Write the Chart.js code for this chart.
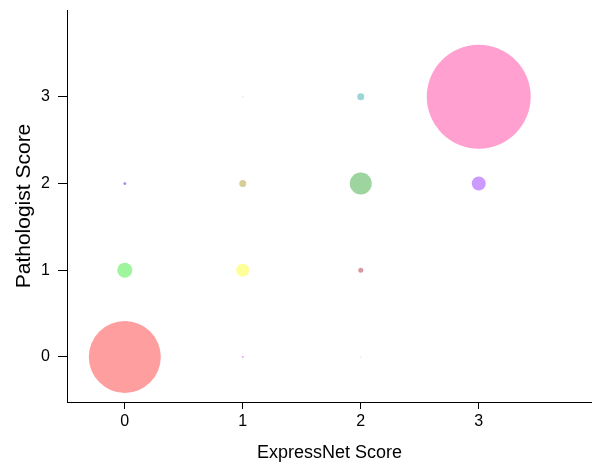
<!DOCTYPE html>
<html>
<head>
<meta charset="utf-8">
<script src="https://cdn.jsdelivr.net/npm/chart.js@4/dist/chart.umd.min.js"></script>
<style>
html,body{margin:0;padding:0;background:#fff;}
canvas{display:block;}
</style>
</head>
<body>
<canvas id="c" width="592" height="466"></canvas>
<script>
// ExpressNet score (x) vs Pathologist score (y), bubble area ~ count
const expressNetScore = [0, 1, 2, 0, 1, 2, 0, 1, 2, 3, 1, 2, 3];
const pathologistScore = [0, 0, 0, 1, 1, 1, 2, 2, 2, 2, 3, 3, 3];
const counts = [144, 0.11, 0.03, 6.25, 4.7, 0.7, 0.25, 1.36, 13.4, 5.4, 0.03, 1.36, 300];
const bubbleColors = ['#FF9E9E', '#E9A0F5', '#C8C8D0', '#9EF59E', '#FFFF99', '#D9999F',
  '#9999FF', '#D6CE96', '#9ED49E', '#CC99FF', '#C8C8B0', '#9CD6D6', '#FFA0D0'];
const tickValues = [0, 1, 2, 3];

const SIZE_SCALE = 3; // radius = SIZE_SCALE * sqrt(count)
const points = expressNetScore.map((x, i) => ({ x: x, y: pathologistScore[i], r: SIZE_SCALE * Math.sqrt(counts[i]) }));

const FONT = "'Liberation Sans', Arial, sans-serif";

new Chart(document.getElementById('c'), {
  type: 'bubble',
  data: {
    datasets: [{
      data: points,
      backgroundColor: bubbleColors,
      borderWidth: 0,
      hoverBorderWidth: 0
    }]
  },
  options: {
    responsive: false,
    animation: false,
    events: [],
    layout: { autoPadding: false, padding: { top: 10, right: 0, left: 0, bottom: 0 } },
    plugins: { legend: { display: false }, tooltip: { enabled: false } },
    scales: {
      x: {
        type: 'linear',
        min: -0.49,
        max: 3.96,
        afterBuildTicks: s => { s.ticks = tickValues.map(v => ({ value: v })); },
        afterFit: s => { s.height = 64; s.paddingLeft = 0; s.paddingRight = 0; },
        grid: { display: true, drawOnChartArea: false, drawTicks: true, tickLength: 7, tickColor: '#000', tickWidth: 1 },
        border: { display: true, color: '#000', width: 1 },
        ticks: { color: '#000', font: { family: FONT, size: 16 }, padding: 3, maxRotation: 0 },
        title: { display: true, text: 'ExpressNet Score', color: '#000', font: { family: FONT, size: 18 }, padding: { top: 0, bottom: 2 } }
      },
      y: {
        type: 'linear',
        min: -0.52,
        max: 4.0,
        afterBuildTicks: s => { s.ticks = tickValues.map(v => ({ value: v })); },
        afterFit: s => { s.width = 67; s.paddingTop = 0; s.paddingBottom = 0; },
        grid: { display: true, drawOnChartArea: false, drawTicks: true, tickLength: 9, tickColor: '#000', tickWidth: 1 },
        border: { display: true, color: '#000', width: 1 },
        ticks: { color: '#000', font: { family: FONT, size: 16 }, padding: 8 },
        title: { display: true, text: 'Pathologist Score', color: '#000', font: { family: FONT, size: 21 }, padding: { top: 12, bottom: 0 } }
      }
    }
  }
});
</script>
</body>
</html>
